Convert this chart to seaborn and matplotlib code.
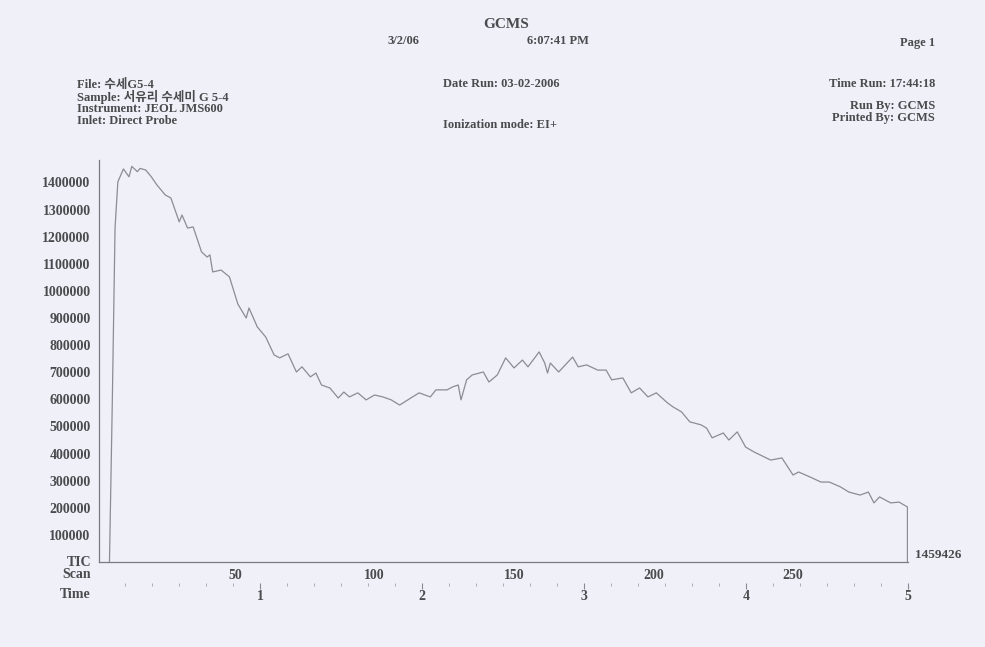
import matplotlib
matplotlib.use("Agg")
import matplotlib.pyplot as plt
from matplotlib.ticker import MultipleLocator, FixedLocator
import seaborn as sns
import pandas as pd

# Total ion chromatogram, direct probe run (scan number vs. TIC intensity)
scans = [5, 6, 7, 8, 10, 12, 13, 15, 16, 18, 20, 22, 25, 27, 30, 31, 33, 35, 38, 40,
         41, 42, 45, 48, 51, 54, 55, 58, 61, 64, 66, 69, 72, 74, 77, 79, 81, 84, 87, 89,
         91, 94, 97, 100, 103, 106, 109, 113, 116, 120, 122, 126, 128, 130, 131, 133, 135,
         139, 141, 144, 147, 150, 153, 155, 159, 161, 162, 163, 166, 171, 173, 176, 180,
         183, 185, 189, 192, 195, 198, 201, 205, 207, 210, 213, 217, 219, 221, 225, 227,
         230, 233, 236, 242, 246, 250, 252, 256, 260, 263, 267, 270, 274, 277, 279, 281,
         285, 288, 291, 291]
tic = [0, 580000, 1232000, 1402000, 1450000, 1421000, 1459426, 1440000, 1452000, 1446000,
       1421000, 1391000, 1354000, 1343000, 1255000, 1280000, 1232000, 1236000, 1144000,
       1125000, 1133000, 1070000, 1077000, 1052000, 952000, 900000, 937000, 867000, 830000,
       764000, 753000, 768000, 701000, 720000, 683000, 697000, 653000, 642000, 605000,
       627000, 609000, 624000, 598000, 616000, 609000, 598000, 579000, 605000, 624000,
       609000, 635000, 635000, 646000, 653000, 598000, 672000, 690000, 701000, 664000,
       690000, 753000, 716000, 745000, 720000, 775000, 734000, 697000, 734000, 701000,
       756000, 720000, 727000, 708000, 708000, 672000, 679000, 624000, 642000, 609000,
       624000, 587000, 572000, 554000, 517000, 506000, 494000, 458000, 476000, 450000,
       480000, 424000, 406000, 376000, 384000, 321000, 332000, 314000, 295000, 295000,
       277000, 258000, 247000, 258000, 218000, 240000, 218000, 221000, 203000, 0]

y_ticks = [100000 * k for k in range(1, 15)]
scan_ticks = [50, 100, 150, 200, 250]
time_ticks = [1, 2, 3, 4, 5]
base_peak_label = "1459426"

scans_per_min = 58.06
scan_at_t0 = 0.9

header = {
    "title": "GCMS",
    "date": "3/2/06",
    "clock": "6:07:41 PM",
    "page": "Page 1",
    "file": "File: 수세G5-4",
    "sample": "Sample: 서유리 수세미 G 5-4",
    "instrument": "Instrument: JEOL JMS600",
    "inlet": "Inlet: Direct Probe",
    "date_run": "Date Run: 03-02-2006",
    "ion_mode": "Ionization mode: EI+",
    "time_run": "Time Run: 17:44:18",
    "run_by": "Run By: GCMS",
    "printed_by": "Printed By: GCMS",
}

df = pd.DataFrame({"Scan": scans, "TIC": tic})

sns.set_theme(style="white")
paper = "#eff0f8"
ink = "#4b4b4e"
trace = "#8c8c92"
serif = ["Liberation Serif", "Noto Sans CJK KR", "DejaVu Sans"]
plt.rcParams["font.family"] = serif
plt.rcParams["font.weight"] = "bold"

W, H = 985, 647
fig = plt.figure(figsize=(W / 100, H / 100), dpi=100, facecolor=paper)


def fx(px):
    return px / W


def fy(py):
    return 1 - py / H


ax = fig.add_axes([fx(99), fy(562), fx(908) - fx(99), fy(160) - fy(562)])
ax.set_facecolor(paper)

sns.lineplot(data=df, x="Scan", y="TIC", estimator=None, sort=False,
             color=trace, linewidth=0.9, ax=ax)

ax.set_xlim(1.25, 291.2)
ax.set_ylim(0, 1483000)
ax.set_xlabel("")
ax.set_ylabel("")

for side in ("top", "right"):
    ax.spines[side].set_visible(False)
for side in ("left", "bottom"):
    ax.spines[side].set_color("#7a7a80")
    ax.spines[side].set_linewidth(0.9)

ax.yaxis.set_major_locator(FixedLocator(y_ticks))
ax.yaxis.set_minor_locator(MultipleLocator(25000))
ax.set_yticklabels([str(v) for v in y_ticks])
ax.xaxis.set_major_locator(FixedLocator(scan_ticks))
ax.xaxis.set_minor_locator(MultipleLocator(10))
ax.set_xticklabels([str(v) for v in scan_ticks])

ax.tick_params(axis="y", which="major", direction="out", length=4, width=0.8,
               color="#7a7a80", labelsize=10, labelcolor=ink, pad=2)
ax.tick_params(axis="y", which="minor", direction="out", length=2, width=0.6,
               color="#8a8a90")
ax.tick_params(axis="x", which="major", direction="out", length=3, width=0.8,
               color="#7a7a80", labelsize=10, labelcolor=ink, pad=2)
ax.tick_params(axis="x", which="minor", direction="out", length=2, width=0.6,
               color="#8a8a90")
for lbl in ax.get_xticklabels() + ax.get_yticklabels():
    lbl.set_fontweight("bold")

# Retention time scale underneath the scan scale
tax = ax.secondary_xaxis(
    -0.052,
    functions=(lambda s: (s - scan_at_t0) / scans_per_min,
               lambda t: t * scans_per_min + scan_at_t0))
tax.spines["bottom"].set_visible(False)
tax.xaxis.set_major_locator(FixedLocator(time_ticks))
tax.xaxis.set_minor_locator(MultipleLocator(1 / 6))
tax.set_xticklabels([str(v) for v in time_ticks])
tax.tick_params(axis="x", which="major", direction="out", length=4, width=0.8,
                color="#8a8a90", labelsize=10, labelcolor=ink, pad=1)
tax.tick_params(axis="x", which="minor", direction="out", length=2, width=0.6,
                color="#a0a0a8")
for lbl in tax.get_xticklabels():
    lbl.set_fontweight("bold")

# Row labels on the left of the axis block
row_kw = dict(ha="right", va="center", fontsize=10, color=ink, fontweight="bold")
fig.text(fx(91), fy(562), "TIC", **row_kw)
fig.text(fx(91), fy(575), "Scan", **row_kw)
fig.text(fx(91), fy(594), "Time", **row_kw)

# Base peak intensity at the right end of the trace
fig.text(fx(915), fy(555), base_peak_label, ha="left", va="center",
         fontsize=9.5, color=ink, fontweight="bold")

# Report header
hk = dict(fontsize=9, color=ink, fontweight="bold", va="center")
fig.text(fx(506), fy(25), header["title"], ha="center", fontsize=11,
         color=ink, fontweight="bold", va="center")
fig.text(fx(403), fy(41), header["date"], ha="center", **hk)
fig.text(fx(558), fy(41), header["clock"], ha="center", **hk)
fig.text(fx(935), fy(43), header["page"], ha="right", **hk)

fig.text(fx(77), fy(85), header["file"], ha="left", **hk)
fig.text(fx(77), fy(97), header["sample"], ha="left", **hk)
fig.text(fx(77), fy(109), header["instrument"], ha="left", **hk)
fig.text(fx(77), fy(121), header["inlet"], ha="left", **hk)

fig.text(fx(443), fy(84), header["date_run"], ha="left", **hk)
fig.text(fx(443), fy(125), header["ion_mode"], ha="left", **hk)

fig.text(fx(935), fy(84), header["time_run"], ha="right", **hk)
fig.text(fx(935), fy(106), header["run_by"], ha="right", **hk)
fig.text(fx(935), fy(118), header["printed_by"], ha="right", **hk)

fig.savefig("out.png", dpi=100, facecolor=paper)
